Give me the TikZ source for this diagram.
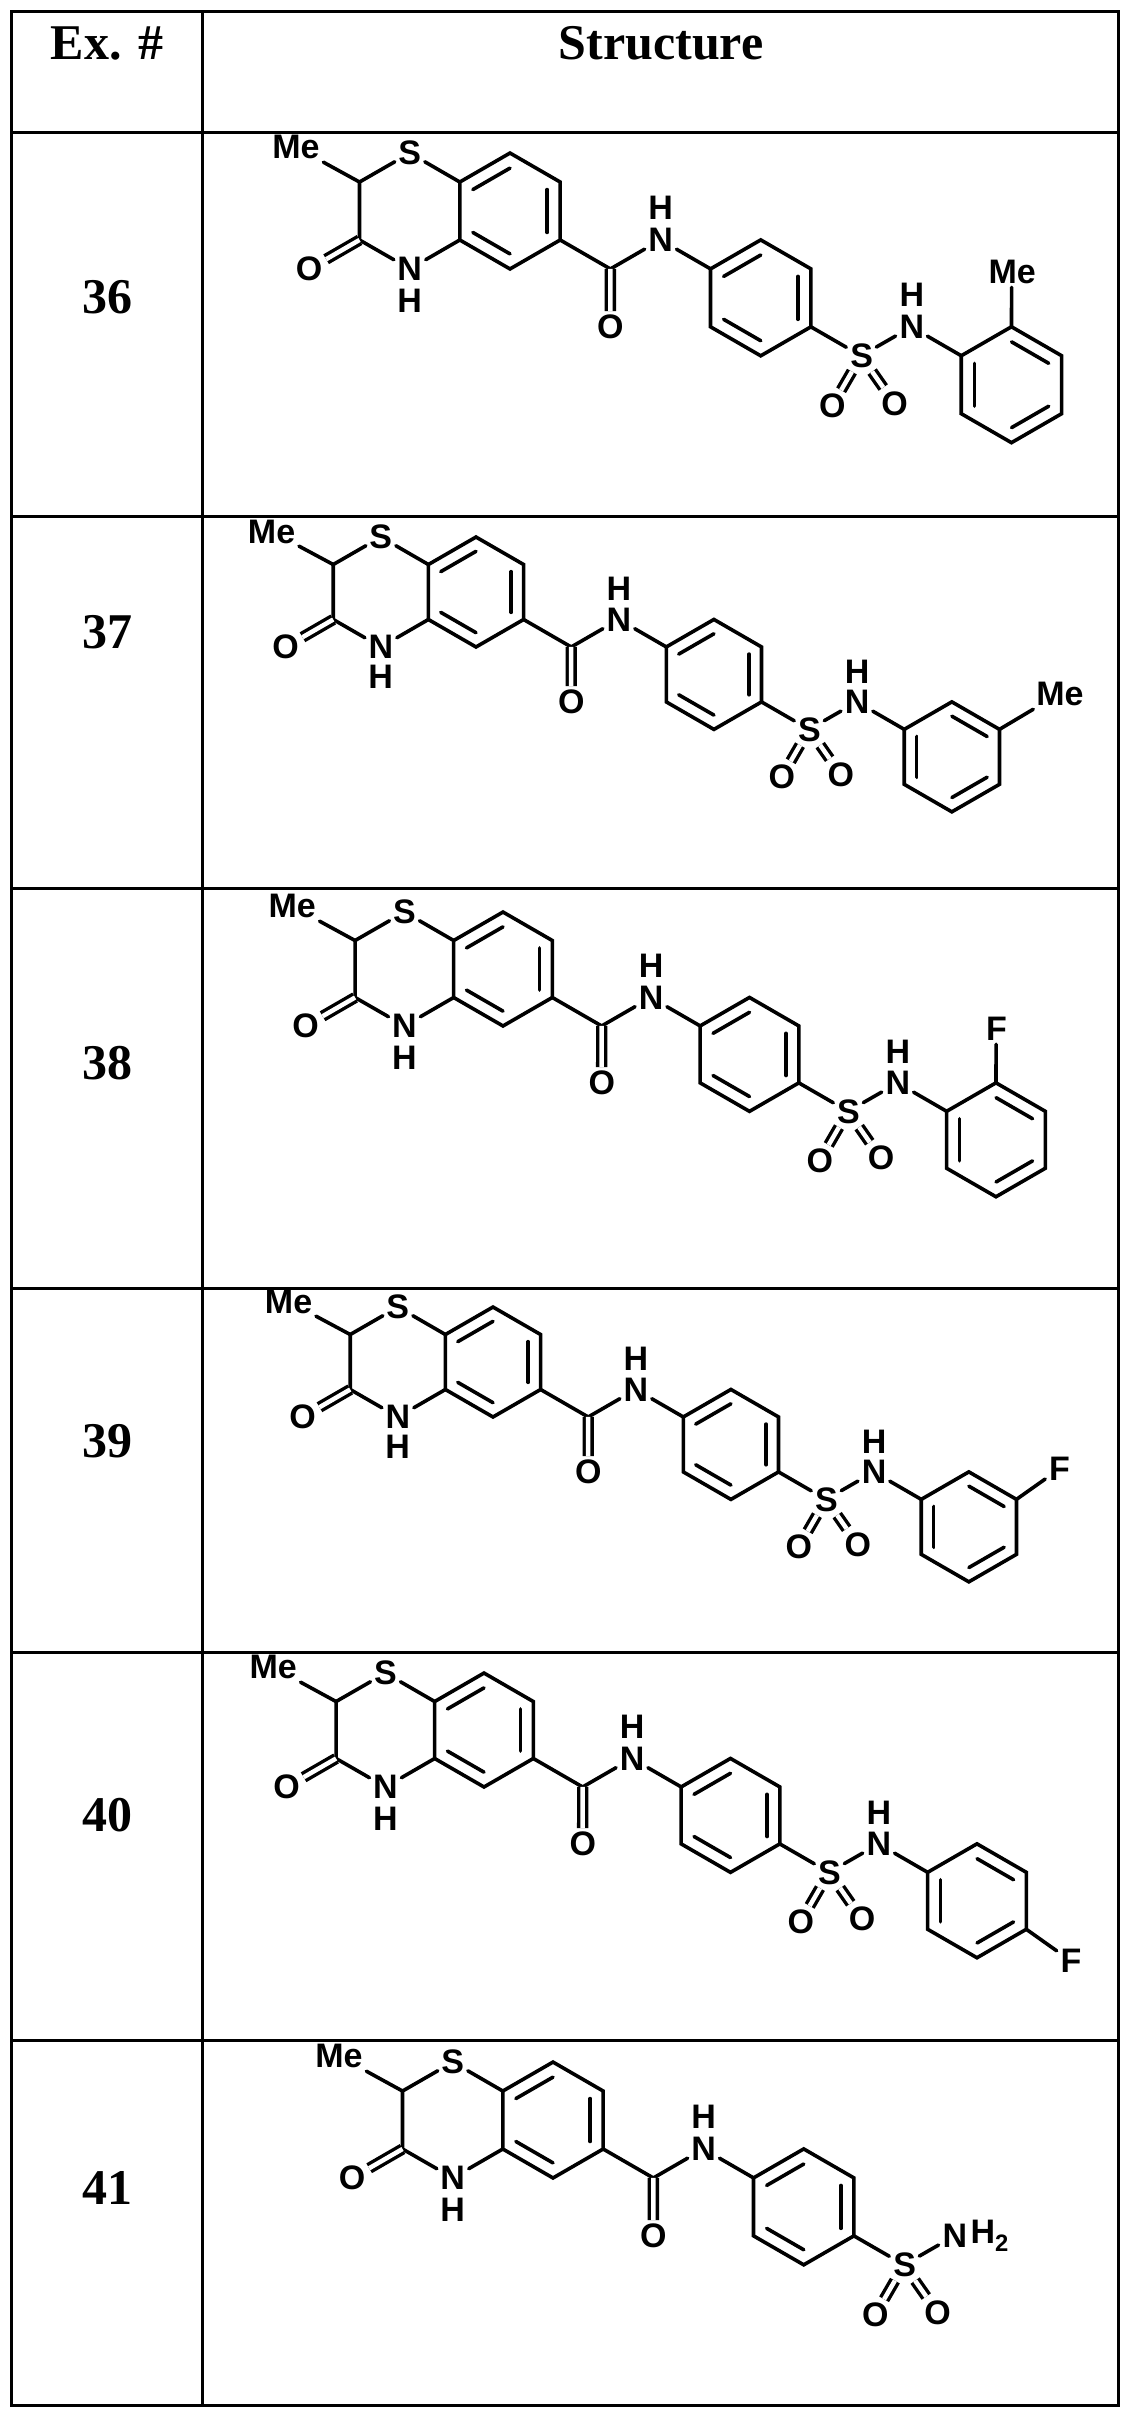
\documentclass[tikz,border=0pt]{standalone}
\usepackage{fontspec}
\setmainfont{Liberation Serif}
\newfontfamily\atomfont{Liberation Sans}
\usetikzlibrary{calc}

\tikzset{
  bond/.style={line width=3.6pt, line cap=round},
  dbond/.style={line width=3.4pt, double, double distance=4.5pt},
  atom/.style={font=\atomfont\bfseries\fontsize{34}{34}\selectfont, inner sep=3.5pt},
  cell/.style={font=\bfseries\fontsize{50}{50}\selectfont},
  rule/.style={line width=3pt},
}
% six corners of a ring
\newcommand\hexring[2]{\foreach \a in {30,90,...,330} \coordinate (#1\a) at ($(#2)+(\a:1)$);}
% inner line of an aromatic double bond
\newcommand\inbond[3]{\draw[bond] ($(#1)!0.74!(#2)$) -- ($(#1)!0.74!(#3)$);}
% core of every structure, extra part in #4
\newcommand\molecule[4]{%
\begin{scope}[shift={(#1,#2)}, scale=#3]
  \coordinate (cA) at (0,0);
  \coordinate (cB) at (-1.732,0);
  \coordinate (cC) at (4.330,-1.5);
  \hexring{A}{cA} \hexring{B}{cB} \hexring{C}{cC}
  \node[atom] (S1) at (B90) {S};
  \node[atom] (N1) at (B270) {N};
  \node[atom] (H1) at (-1.732,-1.55) {H};
  \node[atom, anchor=east] (Me1) at (-3.22,1.1) {Me};
  \node[atom] (O1) at (-3.464,-1) {O};
  \coordinate (C1) at (1.732,-1);
  \node[atom] (O2) at (1.732,-2) {O};
  \node[atom] (N2) at (2.598,-0.5) {N};
  \node[atom] (H2) at (2.598,0.05) {H};
  \node[atom] (S2) at (6.062,-2.5) {S};
  \node[atom] (O3) at ($(S2)+(240:1)$) {O};
  \node[atom] (O4) at ($(S2)+(305:1)$) {O};
  \draw[bond] (A30) -- (A90) -- (A150) -- (A210) -- (A270) -- (A330) -- cycle;
  \inbond{cA}{A90}{A150} \inbond{cA}{A330}{A30} \inbond{cA}{A210}{A270}
  \draw[bond] (A150) -- (S1) -- (B150) -- (B210) -- (N1) -- (A210);
  \draw[bond] (B150) -- (Me1);
  \draw[dbond] (B210) -- (O1);
  \draw[bond] (A330) -- (C1) -- (N2) -- (C150);
  \draw[dbond] (C1) -- (O2);
  \draw[bond] (C30) -- (C90) -- (C150) -- (C210) -- (C270) -- (C330) -- cycle;
  \inbond{cC}{C90}{C150} \inbond{cC}{C330}{C30} \inbond{cC}{C210}{C270}
  \draw[bond] (C330) -- (S2);
  \draw[dbond] (S2) -- (O3);
  \draw[dbond] (S2) -- (O4);
  #4
\end{scope}}
% N-aryl sulfonamide ring
\newcommand\anilide{%
  \node[atom] (N3) at (6.928,-2) {N};
  \node[atom] (H3) at (6.928,-1.45) {H};
  \coordinate (cD) at (8.660,-3);
  \hexring{D}{cD}
  \draw[bond] (S2) -- (N3) -- (D150);
  \draw[bond] (D30) -- (D90) -- (D150) -- (D210) -- (D270) -- (D330) -- cycle;
  \inbond{cD}{D30}{D90} \inbond{cD}{D150}{D210} \inbond{cD}{D270}{D330}}

\begin{document}
\begin{tikzpicture}[x=1pt, y=1pt]
  \useasboundingbox (0,0) rectangle (1133,-2418);
  % table
  \draw[rule] (11,-11) rectangle (1118,-2405);
  \draw[rule] (202,-11) -- (202,-2405);
  \foreach \y in {132,516,888,1288,1652,2040}
    \draw[rule] (11,-\y) -- (1118,-\y);
  \node[cell] (hex) at (107,-43) {Ex. \#};
  \node[cell] (hstr) at (661,-43) {Structure};
  \node[cell] (ex36) at (107,-297) {36};
  \node[cell] (ex37) at (107,-632) {37};
  \node[cell] (ex38) at (107,-1063) {38};
  \node[cell] (ex39) at (107,-1441) {39};
  \node[cell] (ex40) at (107,-1815) {40};
  \node[cell] (ex41) at (107,-2188) {41};

  \molecule{510}{-211}{58}{\anilide
    \node[atom] (Me2) at (8.660,-1.05) {Me};
    \draw[bond] (D90) -- (Me2);}
  \molecule{476}{-592}{55}{\anilide
    \node[atom, anchor=west] (Me2) at (10.12,-1.85) {Me};
    \draw[bond] (D30) -- (Me2);}
  \molecule{503}{-969}{57}{\anilide
    \node[atom] (F1) at (8.660,-1.05) {F};
    \draw[bond] (D90) -- (F1);}
  \molecule{493}{-1362}{55}{\anilide
    \node[atom] (F1) at (10.3,-1.95) {F};
    \draw[bond] (D30) -- (F1);}
  \molecule{484}{-1730}{57}{\anilide
    \node[atom] (F1) at (10.3,-4.05) {F};
    \draw[bond] (D330) -- (F1);}
  \molecule{553}{-2120}{58}{%
    \node[atom] (N3) at (6.928,-2) {N};
    \node[atom, anchor=west, inner sep=0pt] (H4) at (N3.east) {H\textsubscript{2}};
    \draw[bond] (S2) -- (N3);}
\end{tikzpicture}
\end{document}
